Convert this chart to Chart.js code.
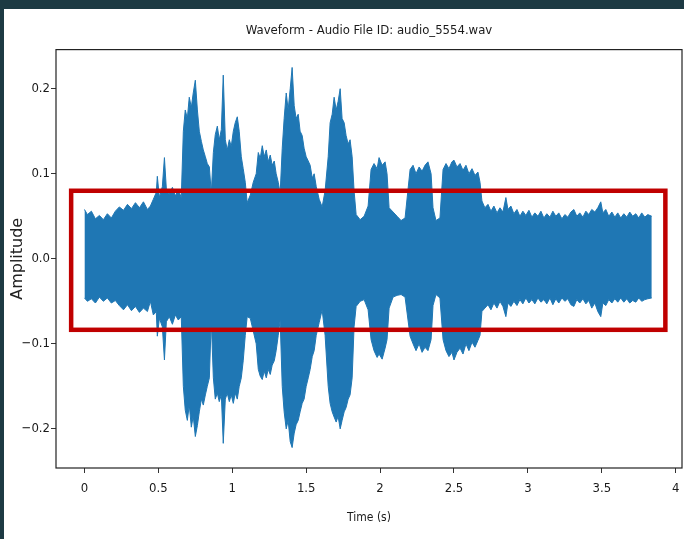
<!DOCTYPE html>
<html>
<head>
<meta charset="utf-8">
<script src="https://cdn.jsdelivr.net/npm/chart.js@4.4.1/dist/chart.umd.min.js"></script>
<style>
  html, body { margin: 0; padding: 0; background: #ffffff; }
  #wrap { position: relative; width: 684px; height: 539px; }
</style>
</head>
<body>
<div id="wrap"><canvas id="wave" width="684" height="539"></canvas></div>
<script>
// Waveform envelope: time (s), upper and lower amplitude.
const waveTime = [
    0.000, 0.020, 0.047, 0.074, 0.101, 0.128, 0.155, 0.182, 0.209, 0.236,
    0.264, 0.291, 0.318, 0.345, 0.372, 0.399, 0.426, 0.446, 0.466, 0.486,
    0.493, 0.507, 0.527, 0.541, 0.554, 0.574, 0.595, 0.615, 0.635, 0.655,
    0.669, 0.682, 0.696, 0.709, 0.723, 0.736, 0.750, 0.764, 0.777, 0.791,
    0.804, 0.818, 0.831, 0.845, 0.858, 0.872, 0.885, 0.899, 0.912, 0.926,
    0.939, 0.953, 0.966, 0.980, 0.993, 1.007, 1.020, 1.034, 1.047, 1.061,
    1.074, 1.088, 1.101, 1.122, 1.142, 1.162, 1.176, 1.189, 1.203, 1.216,
    1.230, 1.243, 1.257, 1.270, 1.284, 1.297, 1.311, 1.324, 1.338, 1.351,
    1.365, 1.378, 1.392, 1.405, 1.419, 1.432, 1.446, 1.459, 1.473, 1.486,
    1.500, 1.514, 1.527, 1.541, 1.554, 1.568, 1.588, 1.608, 1.628, 1.649,
    1.662, 1.676, 1.689, 1.703, 1.716, 1.730, 1.743, 1.757, 1.770, 1.784,
    1.797, 1.811, 1.824, 1.838, 1.865, 1.892, 1.919, 1.939, 1.959, 1.980,
    1.993, 2.014, 2.034, 2.047, 2.061, 2.088, 2.115, 2.142, 2.169, 2.203,
    2.223, 2.243, 2.264, 2.284, 2.304, 2.324, 2.345, 2.358, 2.378, 2.405,
    2.426, 2.446, 2.466, 2.486, 2.500, 2.520, 2.541, 2.561, 2.581, 2.601,
    2.622, 2.642, 2.662, 2.676, 2.689, 2.709, 2.730, 2.750, 2.770, 2.791,
    2.811, 2.831, 2.851, 2.865, 2.885, 2.905, 2.926, 2.946, 2.966, 2.986,
    3.007, 3.027, 3.047, 3.068, 3.088, 3.108, 3.128, 3.149, 3.169, 3.189,
    3.209, 3.230, 3.250, 3.270, 3.291, 3.311, 3.331, 3.351, 3.372, 3.392,
    3.412, 3.432, 3.453, 3.473, 3.493, 3.507, 3.527, 3.547, 3.568, 3.588,
    3.608, 3.628, 3.649, 3.669, 3.689, 3.709, 3.730, 3.750, 3.770, 3.791,
    3.811, 3.838
];
const waveUpper = [
    0.058, 0.052, 0.056, 0.047, 0.051, 0.046, 0.053, 0.048, 0.056, 0.061,
    0.057, 0.064, 0.059, 0.066, 0.060, 0.067, 0.058, 0.062, 0.070, 0.078,
    0.097, 0.072, 0.085, 0.119, 0.082, 0.076, 0.084, 0.074, 0.081, 0.072,
    0.150, 0.175, 0.165, 0.190, 0.178, 0.195, 0.210, 0.175, 0.150, 0.138,
    0.128, 0.120, 0.112, 0.108, 0.077, 0.125, 0.146, 0.156, 0.140, 0.152,
    0.216, 0.140, 0.128, 0.140, 0.132, 0.150, 0.160, 0.167, 0.150, 0.120,
    0.106, 0.090, 0.066, 0.075, 0.090, 0.100, 0.125, 0.118, 0.133, 0.120,
    0.128, 0.114, 0.122, 0.110, 0.115, 0.100, 0.090, 0.077, 0.130, 0.165,
    0.195, 0.175, 0.200, 0.225, 0.180, 0.165, 0.170, 0.150, 0.145, 0.130,
    0.120, 0.115, 0.110, 0.095, 0.100, 0.085, 0.070, 0.061, 0.080, 0.120,
    0.160, 0.170, 0.190, 0.175, 0.185, 0.200, 0.165, 0.160, 0.145, 0.135,
    0.140, 0.120, 0.080, 0.052, 0.046, 0.050, 0.062, 0.105, 0.112, 0.106,
    0.119, 0.110, 0.114, 0.100, 0.060, 0.055, 0.050, 0.045, 0.048, 0.105,
    0.110, 0.100, 0.108, 0.103, 0.110, 0.114, 0.100, 0.060, 0.045, 0.048,
    0.105, 0.112, 0.106, 0.114, 0.116, 0.108, 0.112, 0.104, 0.110, 0.100,
    0.106, 0.098, 0.102, 0.090, 0.068, 0.060, 0.064, 0.056, 0.062, 0.054,
    0.060, 0.055, 0.072, 0.058, 0.062, 0.053, 0.058, 0.050, 0.056, 0.051,
    0.057, 0.049, 0.054, 0.050, 0.056, 0.048, 0.053, 0.049, 0.056, 0.050,
    0.054, 0.047, 0.052, 0.049, 0.055, 0.058, 0.050, 0.054, 0.049, 0.056,
    0.052, 0.058, 0.055, 0.060, 0.067, 0.054, 0.058, 0.050, 0.055, 0.049,
    0.054, 0.048, 0.053, 0.049, 0.055, 0.050, 0.053, 0.048, 0.054, 0.049,
    0.052, 0.050
];
const waveLower = [
    -0.046, -0.050, -0.047, -0.052, -0.045, -0.050, -0.046, -0.052, -0.049, -0.055,
    -0.060, -0.054, -0.061, -0.056, -0.063, -0.058, -0.062, -0.050, -0.066, -0.062,
    -0.091, -0.070, -0.080, -0.119, -0.074, -0.068, -0.077, -0.066, -0.072, -0.068,
    -0.150, -0.178, -0.190, -0.172, -0.198, -0.185, -0.209, -0.196, -0.180, -0.165,
    -0.172, -0.160, -0.150, -0.140, -0.072, -0.140, -0.165, -0.158, -0.168, -0.160,
    -0.217, -0.165, -0.158, -0.168, -0.160, -0.170, -0.158, -0.165, -0.150, -0.140,
    -0.120, -0.090, -0.068, -0.070, -0.085, -0.100, -0.130, -0.138, -0.142, -0.132,
    -0.140, -0.130, -0.136, -0.125, -0.120, -0.108, -0.090, -0.072, -0.150, -0.180,
    -0.200, -0.190, -0.215, -0.222, -0.205, -0.195, -0.190, -0.180, -0.170, -0.165,
    -0.150, -0.140, -0.130, -0.115, -0.108, -0.090, -0.075, -0.060, -0.090, -0.150,
    -0.170, -0.180, -0.186, -0.192, -0.185, -0.200, -0.190, -0.180, -0.175, -0.165,
    -0.160, -0.140, -0.080, -0.056, -0.050, -0.048, -0.060, -0.095, -0.108, -0.116,
    -0.112, -0.118, -0.105, -0.095, -0.058, -0.045, -0.043, -0.042, -0.045, -0.091,
    -0.100, -0.108, -0.100, -0.110, -0.104, -0.108, -0.095, -0.055, -0.042, -0.046,
    -0.095, -0.108, -0.115, -0.110, -0.119, -0.110, -0.105, -0.112, -0.100, -0.108,
    -0.098, -0.104, -0.096, -0.090, -0.062, -0.058, -0.054, -0.060, -0.052, -0.058,
    -0.050, -0.056, -0.068, -0.052, -0.056, -0.050, -0.055, -0.048, -0.053, -0.046,
    -0.052, -0.048, -0.053, -0.046, -0.051, -0.048, -0.053, -0.046, -0.054, -0.047,
    -0.052, -0.046, -0.050, -0.047, -0.054, -0.056, -0.048, -0.052, -0.047, -0.053,
    -0.049, -0.058, -0.052, -0.062, -0.068, -0.052, -0.055, -0.048, -0.052, -0.047,
    -0.051, -0.046, -0.051, -0.047, -0.052, -0.049, -0.051, -0.046, -0.050, -0.048,
    -0.047, -0.046
];

const xTickValues = [0, 0.5, 1, 1.5, 2, 2.5, 3, 3.5, 4];
const xTickLabels = ['0', '0.5', '1', '1.5', '2', '2.5', '3', '3.5', '4'];
const yTickValues = [-0.2, -0.1, 0, 0.1, 0.2];
const yTickLabels = ['\u22120.2', '\u22120.1', '0.0', '0.1', '0.2'];

// red highlight box, in data units: [xMin, xMax, yMin, yMax]
const highlightBox = [-0.09, 3.93, -0.0835, 0.08];

const NARROW = "'Liberation Sans Narrow', 'DejaVu Sans Condensed', 'Liberation Sans', sans-serif";

function toPoints(ys) {
    return waveTime.map(function(t, i) { return { x: t, y: ys[i] }; });
}

// dark frame round the picture, box round the axes, red highlight rectangle
const decorPlugin = {
    id: 'decor',
    beforeDraw: function(chart) {
        const ctx = chart.ctx;
        ctx.save();
        ctx.fillStyle = '#1d3a43';
        ctx.fillRect(0, 0, chart.width, 9);
        ctx.fillRect(0, 0, 4, chart.height);
        ctx.restore();
    },
    afterDatasetsDraw: function(chart) {
        const ctx = chart.ctx;
        const a = chart.chartArea;
        const xs = chart.scales.x, ys = chart.scales.y;
        ctx.save();
        ctx.strokeStyle = '#222222';
        ctx.lineWidth = 1.2;
        ctx.strokeRect(a.left, a.top, a.right - a.left, a.bottom - a.top);
        const x0 = xs.getPixelForValue(highlightBox[0]);
        const x1 = xs.getPixelForValue(highlightBox[1]);
        const y0 = ys.getPixelForValue(highlightBox[3]);
        const y1 = ys.getPixelForValue(highlightBox[2]);
        ctx.strokeStyle = '#c00000';
        ctx.lineWidth = 4.5;
        ctx.strokeRect(x0, y0, x1 - x0, y1 - y0);
        ctx.restore();
    }
};

new Chart(document.getElementById('wave'), {
    type: 'line',
    data: {
        datasets: [
            {
                label: 'upper',
                data: toPoints(waveUpper),
                borderColor: '#1f77b4',
                backgroundColor: '#1f77b4',
                borderWidth: 1,
                fill: '+1',
                tension: 0,
                pointRadius: 0,
            },
            {
                label: 'lower',
                data: toPoints(waveLower),
                borderColor: '#1f77b4',
                backgroundColor: '#1f77b4',
                borderWidth: 1,
                fill: false,
                tension: 0,
                pointRadius: 0,
            }
        ]
    },
    options: {
        responsive: false,
        animation: false,
        layout: { padding: { left: 0, right: 2, top: 0, bottom: 0 } },
        plugins: {
            legend: { display: false },
            tooltip: { enabled: false },
            title: {
                display: true,
                fullSize: false,
                text: 'Waveform - Audio File ID: audio_5554.wav',
                color: '#1a1a1a',
                font: { family: NARROW, size: 13, weight: 'normal' },
                padding: { top: 23, bottom: 11 }
            }
        },
        scales: {
            x: {
                type: 'linear',
                min: -0.1925,
                max: 4.0425,
                afterBuildTicks: function(scale) {
                    scale.ticks = xTickValues.map(function(v) { return { value: v }; });
                },
                // fixed axis height; drop the side padding the tick labels ask for
                afterFit: function(scale) {
                    scale.height = 71;
                    scale.paddingLeft = 0;
                    scale.paddingRight = 0;
                },
                ticks: {
                    autoSkip: false,
                    maxRotation: 0,
                    padding: 8,
                    color: '#1a1a1a',
                    font: { family: NARROW, size: 13 },
                    callback: function(v) {
                        const i = xTickValues.indexOf(v);
                        return i >= 0 ? xTickLabels[i] : '';
                    }
                },
                grid: { drawOnChartArea: false, drawTicks: true, tickLength: 5, color: '#333333' },
                border: { display: false },
                title: {
                    display: true,
                    text: 'Time (s)',
                    color: '#1a1a1a',
                    font: { family: NARROW, size: 12 },
                    padding: { top: 0, bottom: 14 }
                }
            },
            y: {
                type: 'linear',
                min: -0.246,
                max: 0.246,
                afterBuildTicks: function(scale) {
                    scale.ticks = yTickValues.map(function(v) { return { value: v }; });
                },
                afterFit: function(scale) { scale.width = 56; },
                ticks: {
                    autoSkip: false,
                    padding: 1,
                    color: '#1a1a1a',
                    font: { family: NARROW, size: 13 },
                    callback: function(v) {
                        const i = yTickValues.findIndex(function(t) { return Math.abs(t - v) < 1e-9; });
                        return i >= 0 ? yTickLabels[i] : '';
                    }
                },
                grid: { drawOnChartArea: false, drawTicks: true, tickLength: 5, color: '#333333' },
                border: { display: false },
                title: {
                    display: true,
                    text: 'Amplitude',
                    color: '#222222',
                    font: { family: "'DejaVu Sans', sans-serif", size: 16 },
                    padding: { top: 8, bottom: 0 }
                }
            }
        }
    },
    plugins: [decorPlugin]
});
</script>
</body>
</html>
